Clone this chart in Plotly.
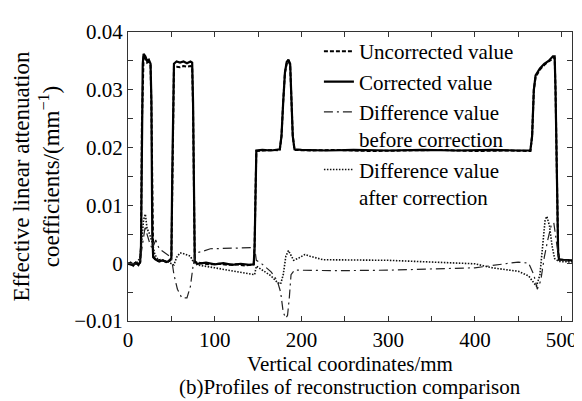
import plotly.graph_objects as go

# ---------------- data ----------------
x_corr = [0, 3, 6, 9, 12, 14, 15, 16, 17, 18, 20, 22, 24, 26, 27, 28, 29, 32, 36, 40, 44, 48, 50, 51, 52, 53,
          56, 60, 64, 68, 72, 74, 75, 76, 77, 80, 90, 100, 110, 120, 130, 140, 145, 146, 147, 148, 155, 165,
          175, 177, 179, 181, 183, 185, 187, 188, 190, 192, 200, 230, 260, 300, 340, 380, 420, 450, 464,
          466, 468, 470, 475, 480, 485, 490, 492, 493, 494, 495, 496, 497, 505, 512]
y_corr = [-0.0002, 0.0001, -0.0004, 0.0001, -0.0003, 0.0002, 0.003, 0.025, 0.0345, 0.0362, 0.0358, 0.035,
          0.0352, 0.0345, 0.028, 0.005, 0.0012, 0.0006, 0.0003, 0.0005, 0.0002, 0.0004, 0.0008, 0.015, 0.030,
          0.0345, 0.0349, 0.0347, 0.0349, 0.0346, 0.0349, 0.0347, 0.028, 0.004, 0.0003, -0.0001, 0.0001,
          -0.0002, 0.0, -0.0003, -0.0001, -0.0003, -0.0002, 0.003, 0.012, 0.0195, 0.0196, 0.0195, 0.0197,
          0.022, 0.028, 0.033, 0.0348, 0.0352, 0.0345, 0.030, 0.022, 0.0197, 0.0196, 0.0195, 0.0196, 0.0195,
          0.0196, 0.0195, 0.0196, 0.0195, 0.0195, 0.022, 0.030, 0.0325, 0.0337, 0.0345, 0.035, 0.0358,
          0.0358, 0.030, 0.020, 0.010, 0.002, 0.0006, 0.0005, 0.0005]

x_unc = [0, 4, 8, 12, 14, 15, 16, 17, 18, 20, 22, 24, 26, 27, 28, 29, 33, 38, 43, 48, 50, 51, 52, 53, 56,
         60, 64, 68, 72, 74, 75, 76, 77, 85, 95, 105, 115, 125, 135, 145, 146, 147, 148, 156, 166, 175, 177,
         179, 181, 183, 185, 187, 188, 190, 192, 210, 240, 280, 320, 360, 400, 440, 464, 466, 468, 470, 475,
         480, 485, 490, 492, 493, 494, 495, 496, 497, 505, 512]
y_unc = [-0.0001, -0.0003, 0.0000, -0.0002, 0.0001, 0.0028, 0.024, 0.034, 0.0359, 0.0355, 0.0347, 0.0349,
         0.0342, 0.027, 0.005, 0.0010, 0.0004, 0.0006, 0.0003, 0.0005, 0.0009, 0.015, 0.030, 0.034, 0.0340,
         0.0339, 0.0341, 0.0340, 0.0341, 0.0340, 0.027, 0.004, 0.0002, 0.0000, -0.0002, -0.0001, -0.0003,
         -0.0002, -0.0004, -0.0002, 0.003, 0.012, 0.0194, 0.0195, 0.0196, 0.0195, 0.022, 0.028, 0.033, 0.0345,
         0.0350, 0.0343, 0.030, 0.022, 0.0196, 0.0195, 0.0196, 0.0194, 0.0195, 0.0196, 0.0194, 0.0195, 0.0194,
         0.022, 0.030, 0.0322, 0.0335, 0.0343, 0.0349, 0.0355, 0.0356, 0.030, 0.020, 0.010, 0.002, 0.0007,
         0.0005, 0.0004]

x_before = [0, 10, 14, 17, 20, 22, 25, 28, 32, 36, 45, 50, 53, 57, 62, 68, 72, 75, 78, 85, 95, 140, 146,
            148, 155, 165, 172, 176, 179, 182, 184, 186, 188, 192, 240, 300, 400, 450, 462, 468, 472, 476,
            480, 484, 488, 491, 494, 497, 512]
y_before = [0.0, -0.0002, 0.0005, 0.004, 0.0065, 0.005, 0.0035, 0.0025, 0.004, 0.0025, 0.0015, 0.001,
            -0.002, -0.0045, -0.006, -0.006, -0.004, -0.0005, 0.0018, 0.002, 0.0025, 0.0027, 0.0027, 0.0005,
            -0.0002, -0.0015, -0.003, -0.005, -0.0085, -0.0095, -0.009, -0.006, -0.002, -0.0012, -0.0013,
            -0.0012, -0.0008, 0.0002, 0.0, -0.002, -0.0045, -0.003, 0.001, 0.004, 0.0065, 0.007, 0.004, 0.0005,
            0.0005]

x_after = [0, 10, 14, 16, 18, 20, 22, 25, 28, 31, 35, 45, 50, 53, 56, 60, 65, 72, 76, 80, 100, 120, 140,
           146, 148, 155, 165, 172, 176, 179, 182, 185, 188, 191, 197, 204, 210, 225, 300, 370, 400, 420, 450,
           462, 468, 471, 475, 478, 481, 483, 486, 489, 492, 497, 512]
y_after = [0.0, 0.0, 0.001, 0.004, 0.0075, 0.0085, 0.006, 0.005, 0.0035, 0.0015, 0.0005, 0.0003, 0.0,
           -0.0003, 0.001, 0.0018, 0.0016, 0.0012, 0.0, -0.0003, -0.0008, -0.0013, -0.0018, -0.002, -0.0005,
           -0.0012, -0.0022, -0.0033, -0.0036, -0.002, 0.0012, 0.0022, 0.0012, 0.0005, 0.0009, 0.0015, 0.0012,
           0.0006, 0.0005, 0.0, -0.0001, -0.0008, -0.0014, -0.0022, -0.0035, -0.004, -0.002, 0.003, 0.0075,
           0.0081, 0.0065, 0.003, 0.0008, 0.0003, 0.0002]

x_tickvals = [0, 100, 200, 300, 400, 500]
x_ticktext = ["0", "100", "200", "300", "400", "500"]
y_tickvals = [-0.01, 0, 0.01, 0.02, 0.03, 0.04]
y_ticktext = ["\u22120.01", "0", "0.01", "0.02", "0.03", "0.04"]

names = ["Uncorrected value", "Corrected value", "Difference value<br>before correction",
         "Difference value<br>after correction"]

# ---------------- figure ----------------
FONT = "Liberation Serif, Times New Roman, serif"
FS = 21
fig = go.Figure()
fig.add_trace(go.Scatter(x=x_unc, y=y_unc, mode="lines", name=names[0],
                         line=dict(color="black", width=2, dash="4px,2px")))
fig.add_trace(go.Scatter(x=x_corr, y=y_corr, mode="lines", name=names[1],
                         line=dict(color="black", width=2.2)))
fig.add_trace(go.Scatter(x=x_before, y=y_before, mode="lines", name=names[2],
                         line=dict(color="#222", width=1.2, dash="9px,4px,2px,4px")))
fig.add_trace(go.Scatter(x=x_after, y=y_after, mode="lines", name=names[3],
                         line=dict(color="#111", width=1.6, dash="1.5px,1.5px")))

axis_common = dict(showline=True, linecolor="#333", linewidth=1, mirror="ticks", ticks="inside",
                   ticklen=5, tickcolor="#333", showgrid=False, zeroline=False,
                   tickfont=dict(family=FONT, size=FS, color="black"))

fig.update_xaxes(range=[0, 512], tickvals=x_tickvals, ticktext=x_ticktext,
                 minor=dict(dtick=50, tick0=0, ticks="inside", ticklen=5, tickcolor="#333", showgrid=False),
                 title=dict(text="Vertical coordinates/mm", font=dict(family=FONT, size=FS, color="black"),
                            standoff=3),
                 **axis_common)
fig.update_yaxes(range=[-0.01, 0.04], tickvals=y_tickvals, ticktext=y_ticktext,
                 minor=dict(dtick=0.005, tick0=0, ticks="inside", ticklen=5, tickcolor="#333", showgrid=False),
                 title=dict(text="Effective linear attenuation<br>coefficients/(mm<sup>\u22121</sup>)",
                            font=dict(family=FONT, size=23, color="black"), standoff=8),
                 **axis_common)

fig.add_annotation(text="(b)Profiles of reconstruction comparison", xref="paper", yref="paper",
                   x=0.5, y=0, yanchor="middle", yshift=-66, showarrow=False,
                   font=dict(family=FONT, size=FS, color="black"))

fig.update_layout(
    width=582, height=401,
    margin=dict(l=119, r=18, t=17, b=88),
    paper_bgcolor="white", plot_bgcolor="white",
    showlegend=True,
    legend=dict(x=0.43, y=1.003, xanchor="left", yanchor="top", bgcolor="rgba(0,0,0,0)",
                font=dict(family=FONT, size=FS, color="black"), valign="top",
                tracegroupgap=0, itemwidth=30),
    font=dict(family=FONT, color="black"),
)

fig.write_html("out.html")
